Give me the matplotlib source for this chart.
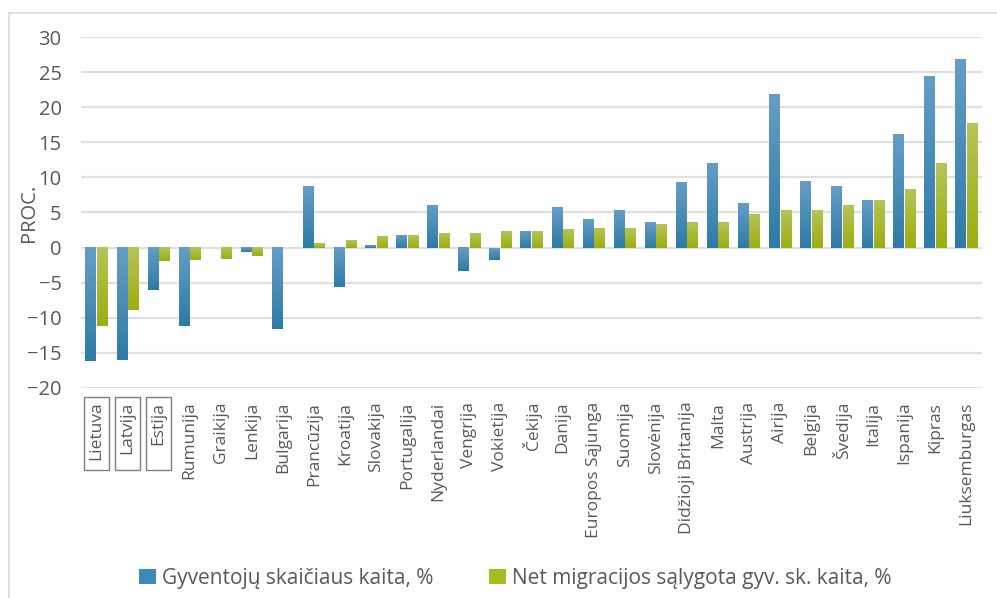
import numpy as np
import matplotlib
matplotlib.use("Agg")
import matplotlib.pyplot as plt
from matplotlib.colors import LinearSegmentedColormap
from matplotlib.patches import Rectangle, Patch

plt.rcParams['font.family'] = ['Open Sans', 'DejaVu Sans']

# Data
countries = ['Lietuva', 'Latvija', 'Estija', 'Rumunija', 'Graikija', 'Lenkija',
             'Bulgarija', 'Prancūzija', 'Kroatija', 'Slovakija', 'Portugalija',
             'Nyderlandai', 'Vengrija', 'Vokietija', 'Čekija', 'Danija',
             'Europos Sąjunga', 'Suomija', 'Slovėnija', 'Didžioji Britanija',
             'Malta', 'Austrija', 'Airija', 'Belgija', 'Švedija', 'Italija',
             'Ispanija', 'Kipras', 'Liuksemburgas']
pop_change = [-16.2, -16.0, -6.1, -11.2, 0.0, -0.6, -11.6, 8.8, -5.6, 0.4, 1.8,
              6.1, -3.4, -1.7, 2.3, 5.7, 4.1, 5.4, 3.7, 9.4, 12.0, 6.4, 21.9,
              9.5, 8.8, 6.8, 16.2, 24.4, 26.8]
migr_change = [-11.2, -8.9, -1.9, -1.8, -1.6, -1.2, 0.0, 0.7, 1.0, 1.6, 1.8,
               2.0, 2.1, 2.3, 2.3, 2.7, 2.8, 2.8, 3.4, 3.6, 3.7, 4.8, 5.4,
               5.4, 6.1, 6.7, 8.3, 12.1, 17.8]
boxed = ['Lietuva', 'Latvija', 'Estija']
legend_labels = ['Gyventojų skaičiaus kaita, %', 'Net migracijos sąlygota gyv. sk. kaita, %']

text_color = '#595959'
blue_top, blue_mid, blue_bot = '#659dc6', '#3a8bba', '#2e7ba6'
green_top, green_mid, green_bot = '#b6c456', '#a8bb20', '#9cae10'

fig = plt.figure(figsize=(9.97, 5.98), dpi=100)
ax = fig.add_axes([0.0812, 0.3512, 0.9038, 0.5869])

# outer chart frame
fig.patches.append(Rectangle((9 / 997, -0.05), 1.0, 1 - 13 / 598 + 0.05,
                             transform=fig.transFigure, fill=False,
                             edgecolor='#d9d9d9', lw=1.2))

x = np.arange(len(countries))
w = 0.34
b1 = ax.bar(x - w / 2 - 0.015, pop_change, w, zorder=3)
b2 = ax.bar(x + w / 2 + 0.015, migr_change, w, zorder=3)


def gradient(bars, top, bot):
    cmap = LinearSegmentedColormap.from_list('g', [bot, top])
    grad = np.linspace(0, 1, 64).reshape(-1, 1)
    for b in bars:
        x0, y0 = b.get_xy()
        h = b.get_height()
        b.set_visible(False)
        if h == 0:
            continue
        ax.imshow(grad, extent=[x0, x0 + b.get_width(), min(y0, y0 + h), max(y0, y0 + h)],
                  origin='lower', aspect='auto', cmap=cmap, zorder=3)


gradient(b1, blue_top, blue_bot)
gradient(b2, green_top, green_bot)

ax.set_xlim(-0.5, len(countries) - 0.5)
ax.set_ylim(-20, 30)
ax.set_yticks(range(-20, 31, 5))
ax.yaxis.grid(True, color='#e0e0e0', lw=1.6, zorder=0)
ax.set_axisbelow(True)
for s in ax.spines.values():
    s.set_visible(False)

ax.set_xticks(x)
ax.set_xticklabels(countries, rotation=90, va='top', ha='center')
ax.tick_params(axis='x', length=0, pad=10, labelsize=12.5, colors=text_color)
ax.tick_params(axis='y', length=0, pad=14, labelsize=14.5, colors=text_color)
ax.set_ylabel('PROC.', fontsize=14.5, color=text_color, labelpad=-9)

# boxes around the Baltic states
for i, c in enumerate(countries):
    if c in boxed:
        ax.add_patch(Rectangle((i - 0.4, -0.234), 0.8, 0.208,
                               transform=ax.get_xaxis_transform(), fill=False,
                               edgecolor='#7f7f7f', lw=1.0, clip_on=False))

handles = [Patch(facecolor=blue_mid), Patch(facecolor=green_mid)]
fig.legend(handles, legend_labels, loc='center', bbox_to_anchor=(0.517, 0.033),
           ncol=2, frameon=False, fontsize=15, labelcolor=text_color,
           handlelength=0.8, handleheight=0.8, handletextpad=0.3, columnspacing=2.65)

fig.savefig('out.png', dpi=100)
